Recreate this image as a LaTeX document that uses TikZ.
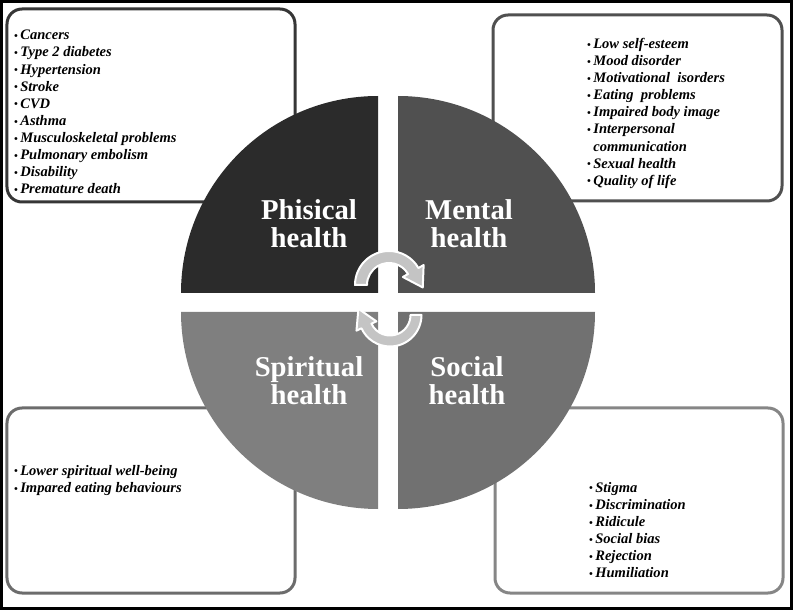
\documentclass[tikz,border=0pt]{standalone}
\usepackage{fontspec}
\setmainfont{Liberation Serif}
\usepackage{xcolor}
\usepackage{tikz}
\usetikzlibrary{positioning, calc}

\definecolor{physgray}{HTML}{2B2B2B}
\definecolor{mentgray}{HTML}{505050}
\definecolor{spirgray}{HTML}{7F7F7F}
\definecolor{socgray}{HTML}{717171}
\definecolor{cyclegray}{HTML}{C4C4C4}

\newcommand{\bul}{\raisebox{0.3pt}{\small\textbullet}\,}

\begin{document}
\begin{tikzpicture}[
    x=0.3mm, y=0.3mm,
    listbox/.style={rectangle, draw, rounded corners=4.5mm, line width=0.9mm, fill=white},
    items/.style={anchor=north west, inner sep=0pt, align=left, font=\fontsize{12.4}{14.6}\selectfont\bfseries\itshape},
    qlabel/.style={text=white, align=center, inner sep=0pt, font=\fontsize{24.5}{24}\selectfont\bfseries},
    cycarrow/.style={fill=cyclegray, draw=white, line width=0.6mm, line join=round}
]
\useasboundingbox (0,0) rectangle (793,610);

% Frame
\draw[line width=0.9mm] (1.5,1.5) rectangle (791.5,608.5);

% Boxes behind the circle
\node[listbox, draw=physgray!95, minimum width=86.4mm, minimum height=57.9mm] (physbox) at (151,504.5) {};
\node[listbox, draw=mentgray, minimum width=86.7mm, minimum height=55.8mm] (mentbox) at (637.5,502) {};
\node[listbox, draw=spirgray!85!black, minimum width=86.4mm, minimum height=55.5mm] (spirbox) at (151,109.5) {};
\node[listbox, draw=socgray!85!white, minimum width=86.4mm, minimum height=55.5mm] (socbox) at (639,109.5) {};

% Four quarters
\fill[physgray] (378,317) -- ++(-197,0) arc[start angle=180, end angle=90, radius=197] -- cycle;
\fill[mentgray] (398,317) -- ++(0,197) arc[start angle=90, end angle=0, radius=197] -- cycle;
\fill[spirgray] (378,298) -- ++(0,-197) arc[start angle=270, end angle=180, radius=197] -- cycle;
\fill[socgray] (398,298) -- ++(197,0) arc[start angle=0, end angle=-90, radius=197] -- cycle;

% Labels
\node[qlabel] (phys) at (309,386) {Phisical\\health};
\node[qlabel] (ment) at (469,386) {Mental\\health};
\node[qlabel] (spir) at (309,229) {Spiritual\\health};
\node[qlabel] (soc) at (467,229) {Social\\health};

% Lists
\node[items] (physlist) at (14,580) {\bul Cancers\\ \bul Type 2 diabetes\\ \bul Hypertension\\ \bul Stroke\\ \bul CVD\\ \bul Asthma\\ \bul Musculoskeletal problems\\ \bul Pulmonary embolism\\ \bul Disability\\ \bul Premature death};
\node[items] (mentlist) at (587,572) {\bul Low self-esteem\\ \bul Mood disorder\\ \bul Motivational\ \ isorders\\ \bul Eating\ \ problems\\ \bul Impaired body image\\ \bul Interpersonal\\ \phantom{\bul}communication\\ \bul Sexual health\\ \bul Quality of life};
\node[items] (spirlist) at (14,145) {\bul Lower spiritual well-being\\ \bul Impared eating behaviours};
\node[items] (soclist) at (589,128) {\bul Stigma\\ \bul Discrimination\\ \bul Ridicule\\ \bul Social bias\\ \bul Rejection\\ \bul Humiliation};

% Cycle arrows
\coordinate (cyc1) at (389,325);
\coordinate (cyc2) at (390,295);
\draw[cycarrow] ($(cyc1)+(180:34)$) arc[start angle=180, end angle=30, radius=34]
    -- ($(cyc1)+(30:40)$) -- ($(cyc1)+(30:28)+(-60:19)$) -- ($(cyc1)+(30:16)$)
    -- ($(cyc1)+(30:22)$) arc[start angle=30, end angle=180, radius=22] -- cycle;
\draw[cycarrow] ($(cyc2)+(0:31.5)$) arc[start angle=0, end angle=-155, radius=31.5]
    -- ($(cyc2)+(205:37)$) -- ($(cyc2)+(205:26)+(115:19)$) -- ($(cyc2)+(205:15)$)
    -- ($(cyc2)+(205:20.5)$) arc[start angle=-155, end angle=0, radius=20.5] -- cycle;

\end{tikzpicture}
\end{document}
